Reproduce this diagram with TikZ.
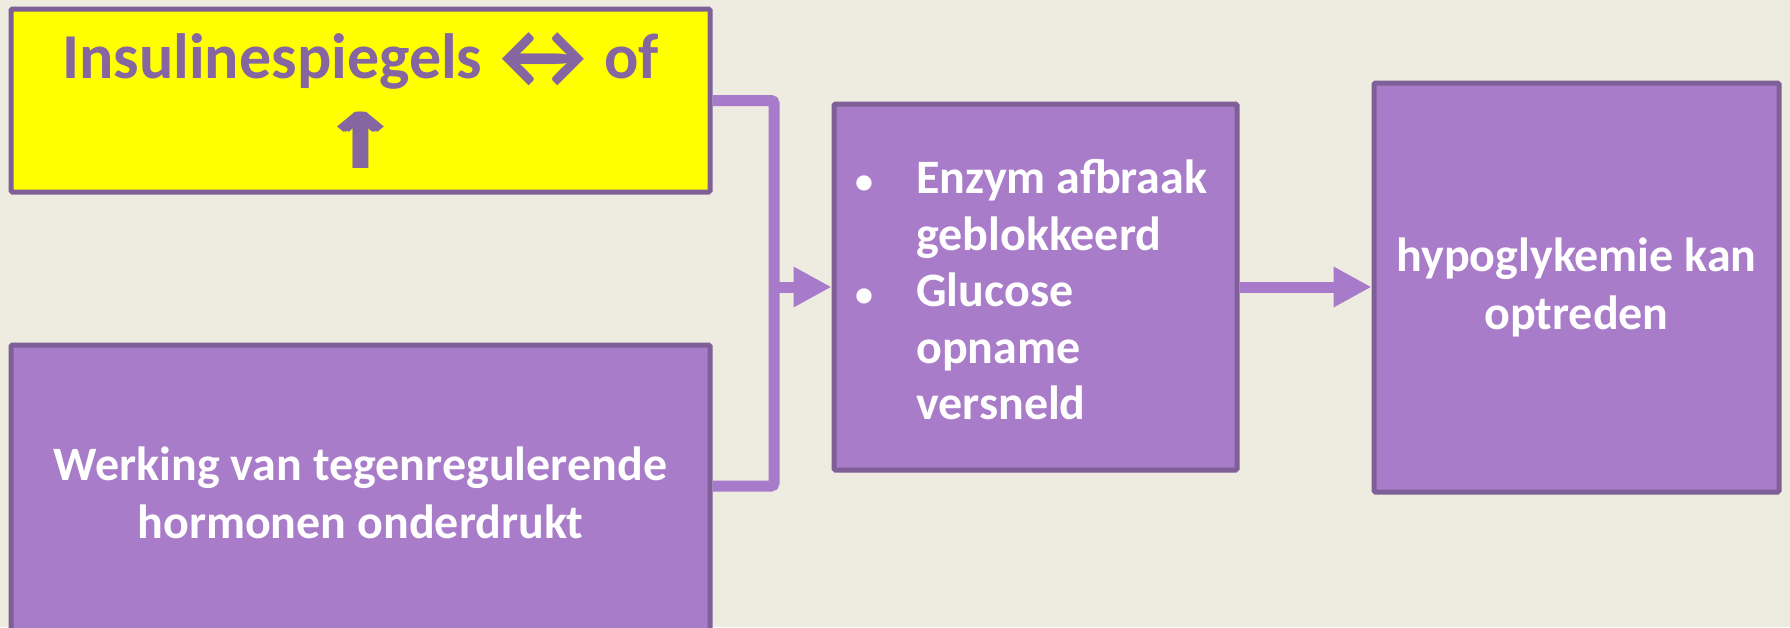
\documentclass[tikz,border=0pt]{standalone}
\usepackage{fontspec}
\setmainfont{Carlito}
\newfontfamily\symfont{DejaVu Sans}
\usetikzlibrary{arrows.meta}
\definecolor{bg}{HTML}{EEEBE0}
\definecolor{boxfill}{HTML}{A97CC9}
\definecolor{boxline}{HTML}{7E5F98}
\definecolor{conn}{HTML}{A77BCA}
\definecolor{ytext}{HTML}{8566A0}
\definecolor{yfill}{HTML}{FFFF00}
\newcommand{\fatup}{{\symfont\bfseries\scalebox{1.45}[1.2]{\rlap{↑}\hspace{1.8pt}\rlap{↑}\hspace{1.8pt}↑}}}
\begin{document}
\begin{tikzpicture}[x=1pt,y=-1pt,
  box/.style={draw=boxline, line width=5pt, fill=boxfill, text=white,
    font=\bfseries\fontsize{48}{58}\selectfont, align=center, inner sep=0pt, rounded corners=1.5pt},
  conline/.style={draw=conn, line width=11pt, rounded corners=3pt},
  tip/.style={-{Triangle[length=38pt,width=38pt]}}]
\fill[bg] (0,0) rectangle (1790,627);
\useasboundingbox (0,0) rectangle (1790,627);

\node[box, fill=yfill, text=ytext, font=\bfseries\fontsize{64}{76}\selectfont,
  minimum width=699pt, minimum height=183pt] (ins) at (360.5,100.5)
  {Insulinespiegels\hspace{-0.03em}\raisebox{-0.15em}{\scalebox{1.5}{↔}}\hspace{-0.03em}of\\[0pt]\raisebox{-0.22em}{\fatup}};
\node[box, minimum width=699pt, minimum height=295pt] (teg) at (360.5,492.5)
  {Werking van tegenregulerende\\hormonen onderdrukt};
\node[box, minimum width=403pt, minimum height=366pt] (enz) at (1035.5,287) {};
\node[text=white, font=\bfseries\fontsize{48}{56.5}\selectfont, align=left, anchor=west, inner sep=0pt]
  (enzt) at (855,290)
  {\makebox[61pt][l]{\scalebox{0.75}{•}}Enzym afbraak\\\hspace*{61pt}geblokkeerd\\\makebox[61pt][l]{\scalebox{0.75}{•}}Glucose\\\hspace*{61pt}opname\\\hspace*{61pt}versneld};
\node[box, minimum width=405pt, minimum height=409pt] (hyp) at (1576.5,287.5)
  {hypoglykemie kan\\optreden};

\coordinate (jtop) at (774,100.5);
\coordinate (jbot) at (774,486);
\draw[conline] (ins.east) -- (jtop) -- (jbot) -- (teg.east |- jbot);
\draw[conline, rounded corners=0pt, tip] (jtop |- enz.west) -- (enz.west);
\draw[conline, rounded corners=0pt, tip] (enz.east) -- (enz.east -| hyp.west);
\end{tikzpicture}
\end{document}
